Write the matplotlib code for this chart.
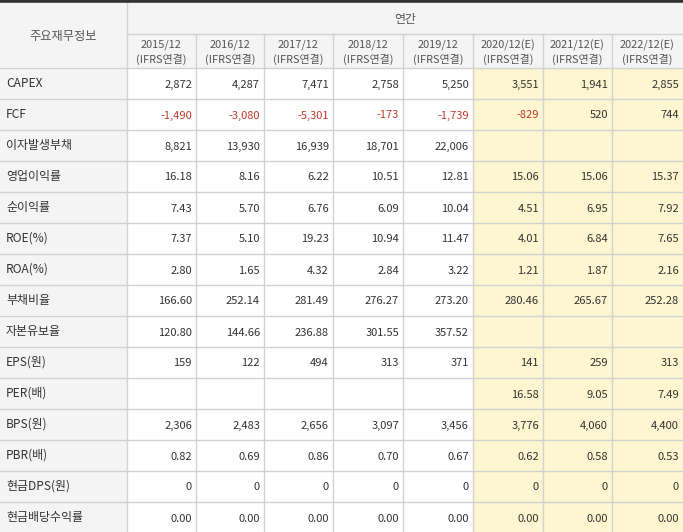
import matplotlib
matplotlib.use("Agg")
import matplotlib.pyplot as plt
from matplotlib.patches import Rectangle

plt.rcParams["font.family"] = ["Noto Sans CJK KR", "DejaVu Sans"]

# ----------------------------------------------------------------------
# Data
# ----------------------------------------------------------------------
title_col = "주요재무정보"
group_label = "연간"
periods = ["2015/12", "2016/12", "2017/12", "2018/12", "2019/12",
           "2020/12(E)", "2021/12(E)", "2022/12(E)"]
basis = "(IFRS연결)"
is_estimate = [False, False, False, False, False, True, True, True]

row_labels = ["CAPEX", "FCF", "이자발생부채", "영업이익률", "순이익률", "ROE(%)",
              "ROA(%)", "부채비율", "자본유보율", "EPS(원)", "PER(배)", "BPS(원)",
              "PBR(배)", "현금DPS(원)", "현금배당수익률"]

capex = ["2,872", "4,287", "7,471", "2,758", "5,250", "3,551", "1,941", "2,855"]
fcf = ["-1,490", "-3,080", "-5,301", "-173", "-1,739", "-829", "520", "744"]
debt = ["8,821", "13,930", "16,939", "18,701", "22,006", "", "", ""]
op_margin = ["16.18", "8.16", "6.22", "10.51", "12.81", "15.06", "15.06", "15.37"]
net_margin = ["7.43", "5.70", "6.76", "6.09", "10.04", "4.51", "6.95", "7.92"]
roe = ["7.37", "5.10", "19.23", "10.94", "11.47", "4.01", "6.84", "7.65"]
roa = ["2.80", "1.65", "4.32", "2.84", "3.22", "1.21", "1.87", "2.16"]
debt_ratio = ["166.60", "252.14", "281.49", "276.27", "273.20", "280.46", "265.67", "252.28"]
reserve_ratio = ["120.80", "144.66", "236.88", "301.55", "357.52", "", "", ""]
eps = ["159", "122", "494", "313", "371", "141", "259", "313"]
per = ["", "", "", "", "", "16.58", "9.05", "7.49"]
bps = ["2,306", "2,483", "2,656", "3,097", "3,456", "3,776", "4,060", "4,400"]
pbr = ["0.82", "0.69", "0.86", "0.70", "0.67", "0.62", "0.58", "0.53"]
dps = ["0", "0", "0", "0", "0", "0", "0", "0"]
div_yield = ["0.00", "0.00", "0.00", "0.00", "0.00", "0.00", "0.00", "0.00"]

values = [capex, fcf, debt, op_margin, net_margin, roe, roa, debt_ratio,
          reserve_ratio, eps, per, bps, pbr, dps, div_yield]

# ----------------------------------------------------------------------
# Layout (pixels)
# ----------------------------------------------------------------------
W, H = 683, 532
first_w = 127
col_edges = [127, 196, 264, 333, 403, 473, 543, 612, 683]
top_border = 3
head1_bottom = 34
head2_bottom = 68
row_h = 31

HEAD_BG = "#f4f4f4"
EST_BG = "#fdf6d1"
GRID = "#d2d2d2"
TXT = "#333333"
HEAD_TXT = "#555555"
NEG = "#c0392b"

fig = plt.figure(figsize=(W / 100, H / 100), dpi=100)
ax = fig.add_axes([0, 0, 1, 1])
ax.set_xlim(0, W)
ax.set_ylim(H, 0)
ax.axis("off")

# backgrounds
ax.add_patch(Rectangle((0, 0), W, head2_bottom, color=HEAD_BG, lw=0))
ax.add_patch(Rectangle((0, head2_bottom), first_w, H - head2_bottom, color=HEAD_BG, lw=0))
for j, est in enumerate(is_estimate):
    if est:
        ax.add_patch(Rectangle((col_edges[j], head2_bottom),
                               col_edges[j + 1] - col_edges[j], H - head2_bottom,
                               color=EST_BG, lw=0))

# grid lines
ax.plot([col_edges[0], W], [head1_bottom, head1_bottom], color=GRID, lw=1)
ax.plot([0, W], [head2_bottom, head2_bottom], color=GRID, lw=1)
for i in range(1, len(row_labels)):
    y = head2_bottom + i * row_h
    ax.plot([0, W], [y, y], color=GRID, lw=1)
ax.plot([first_w, first_w], [top_border, H], color=GRID, lw=1)
for x in col_edges[1:-1]:
    ax.plot([x, x], [head1_bottom, H], color=GRID, lw=1)
ax.plot([0, W], [1.2, 1.2], color="#333333", lw=2.6, solid_capstyle="butt")

# header text
ax.text(first_w / 2, (top_border + head2_bottom) / 2 + 1, title_col,
        ha="center", va="center", fontsize=8.8, color=HEAD_TXT)
ax.text((first_w + W) / 2, (top_border + head1_bottom) / 2 + 1, group_label,
        ha="center", va="center", fontsize=8.6, color=HEAD_TXT)
for j, p in enumerate(periods):
    xc = (col_edges[j] + col_edges[j + 1]) / 2
    ax.text(xc, 45, p, ha="center", va="center", fontsize=7.9, color=HEAD_TXT)
    ax.text(xc, 59, basis, ha="center", va="center", fontsize=7.9, color=HEAD_TXT)

# body
for i, (label, vals) in enumerate(zip(row_labels, values)):
    yc = head2_bottom + i * row_h + row_h / 2
    ax.text(6, yc, label, ha="left", va="center", fontsize=8.6, color=TXT)
    for j, v in enumerate(vals):
        if not v:
            continue
        color = NEG if v.startswith("-") else TXT
        ax.text(col_edges[j + 1] - 4, yc + 1, v, ha="right", va="center",
                fontsize=8.0, color=color)

fig.savefig("out.png", dpi=100)
